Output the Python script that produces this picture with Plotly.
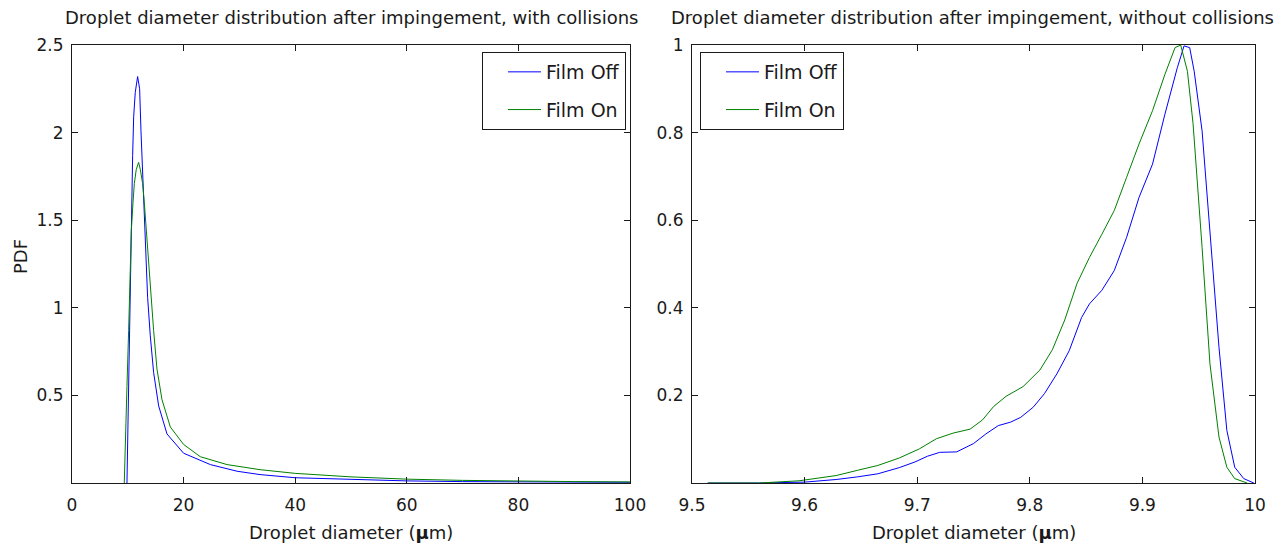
import plotly.graph_objects as go

# ---------------- data ----------------
# Left panel: with collisions (diameter in um, PDF)
off_col_x = [9.85, 10.15, 10.45, 10.63, 10.87, 11.05, 11.34, 11.76, 12.12, 12.36, 12.72,
             13.14, 13.55, 14.03, 14.63, 15.53, 17.02, 20.0, 24.8, 29.6, 33.7, 40, 50, 60, 70, 80, 90, 100]
off_col_y = [0.0, 0.63, 1.25, 1.60, 1.87, 2.09, 2.23, 2.32, 2.25, 2.01, 1.71,
             1.35, 1.06, 0.84, 0.63, 0.44, 0.28, 0.17, 0.105, 0.067, 0.048, 0.030, 0.019, 0.012, 0.008, 0.006, 0.005, 0.004]

on_col_x = [9.37, 9.55, 9.85, 10.15, 10.45, 10.63, 10.93, 11.17, 11.52, 11.94, 12.24, 12.66,
            12.96, 13.32, 13.74, 14.16, 14.63, 15.23, 16.13, 17.62, 20.0, 23.0, 27.8, 33.7,
            40, 50, 60, 70, 80, 90, 100]
on_col_y = [0.0, 0.27, 0.55, 0.87, 1.25, 1.44, 1.60, 1.71, 1.79, 1.83, 1.79, 1.71,
            1.60, 1.44, 1.25, 1.06, 0.87, 0.65, 0.475, 0.32, 0.22, 0.15, 0.105, 0.076,
            0.055, 0.035, 0.022, 0.015, 0.010, 0.008, 0.006]

# Right panel: without collisions
off_nocol_x = [9.514, 9.56, 9.60, 9.61, 9.628, 9.647, 9.665, 9.684, 9.698, 9.709, 9.72, 9.735,
               9.75, 9.761, 9.772, 9.783, 9.792, 9.803, 9.813, 9.824, 9.835, 9.846, 9.853,
               9.864, 9.875, 9.886, 9.897, 9.909, 9.92, 9.931, 9.937, 9.942, 9.946, 9.953,
               9.96, 9.968, 9.975, 9.982, 9.99, 9.999]
off_nocol_y = [0.0, 0.0, 0.002, 0.004, 0.008, 0.014, 0.021, 0.035, 0.048, 0.061, 0.070, 0.071,
               0.090, 0.112, 0.131, 0.139, 0.150, 0.173, 0.204, 0.249, 0.302, 0.378, 0.409,
               0.440, 0.485, 0.561, 0.652, 0.728, 0.842, 0.948, 0.998, 0.994, 0.940, 0.804,
               0.576, 0.310, 0.120, 0.036, 0.010, 0.0]

on_nocol_x = [9.514, 9.56, 9.595, 9.61, 9.628, 9.647, 9.665, 9.684, 9.702, 9.717, 9.732, 9.747,
              9.758, 9.768, 9.779, 9.794, 9.809, 9.82, 9.831, 9.842, 9.853, 9.864, 9.875,
              9.886, 9.897, 9.909, 9.92, 9.929, 9.934, 9.94, 9.945, 9.953, 9.96, 9.968,
              9.975, 9.982, 9.993]
on_nocol_y = [0.0, 0.0, 0.005, 0.010, 0.017, 0.029, 0.040, 0.057, 0.078, 0.101, 0.114, 0.123,
              0.144, 0.175, 0.198, 0.220, 0.258, 0.304, 0.372, 0.456, 0.515, 0.568, 0.622,
              0.698, 0.774, 0.850, 0.933, 0.994, 1.0, 0.940, 0.820, 0.538, 0.272, 0.105,
              0.036, 0.010, 0.0]

series_names = ["Film Off", "Film On"]
left_title = "Droplet diameter distribution after impingement, with collisions"
right_title = "Droplet diameter distribution after impingement, without collisions"
x_label = "Droplet diameter (<b>\u03bc</b>m)"
y_label = "PDF"
left_xticks = [0, 20, 40, 60, 80, 100]
left_yticks = [0.5, 1, 1.5, 2, 2.5]
left_ytext = ["0.5", "1", "1.5", "2", "2.5"]
right_xticks = [9.5, 9.6, 9.7, 9.8, 9.9, 10]
right_xtext = ["9.5", "9.6", "9.7", "9.8", "9.9", "10"]
right_yticks = [0.2, 0.4, 0.6, 0.8, 1]
right_ytext = ["0.2", "0.4", "0.6", "0.8", "1"]

# ---------------- figure ----------------
W, H = 1286, 546
BLUE = "#0000ff"
GREEN = "#008000"
FONT = "DejaVu Sans, Liberation Sans, sans-serif"
INK = "#1a1a1a"

fig = go.Figure()
fig.add_trace(go.Scatter(x=off_col_x, y=off_col_y, mode="lines", name=series_names[0],
                         line=dict(color=BLUE, width=1), xaxis="x", yaxis="y",
                         legend="legend", legendgroup="a"))
fig.add_trace(go.Scatter(x=on_col_x, y=on_col_y, mode="lines", name=series_names[1],
                         line=dict(color=GREEN, width=1), xaxis="x", yaxis="y",
                         legend="legend", legendgroup="b"))
fig.add_trace(go.Scatter(x=off_nocol_x, y=off_nocol_y, mode="lines", name=series_names[0],
                         line=dict(color=BLUE, width=1), xaxis="x2", yaxis="y2",
                         legend="legend2", legendgroup="c"))
fig.add_trace(go.Scatter(x=on_nocol_x, y=on_nocol_y, mode="lines", name=series_names[1],
                         line=dict(color=GREEN, width=1), xaxis="x2", yaxis="y2",
                         legend="legend2", legendgroup="d"))

def px(v):
    return v / W

def py(v):
    return (H - v) / H

axis_common = dict(showline=True, linecolor=INK, linewidth=1, mirror="ticks",
                   ticks="inside", ticklen=6, tickcolor=INK, showgrid=False,
                   zeroline=False, automargin=False,
                   tickfont=dict(family=FONT, size=17, color=INK))

L0, L1 = 72, 630
R0, R1 = 692, 1255
T, B = 45, 483
dom_y = [py(B), py(T)]
legend_common = dict(yanchor="top", bordercolor=INK, borderwidth=1, bgcolor="white",
                     font=dict(family=FONT, size=19, color=INK), tracegroupgap=10,
                     indentation=20, itemwidth=33)
fig.update_layout(
    width=W, height=H,
    margin=dict(l=0, r=0, t=0, b=0),
    paper_bgcolor="white", plot_bgcolor="white",
    font=dict(family=FONT, size=16, color=INK),
    showlegend=True,
    xaxis=dict(domain=[px(L0), px(L1)], range=[0, 100], tickvals=left_xticks,
               anchor="y", ticklabelstandoff=7, **axis_common),
    yaxis=dict(domain=dom_y, range=[0, 2.5], tickvals=left_yticks,
               ticktext=left_ytext, anchor="x", ticklabelstandoff=4, **axis_common),
    xaxis2=dict(domain=[px(R0), px(R1)], range=[9.5, 10], tickvals=right_xticks,
                ticktext=right_xtext, anchor="y2", ticklabelstandoff=7, **axis_common),
    yaxis2=dict(domain=dom_y, range=[0, 1], tickvals=right_yticks, ticktext=right_ytext,
                anchor="x2", ticklabelstandoff=4, **axis_common),
    legend=dict(x=px(626), y=py(52), xanchor="right", **legend_common),
    legend2=dict(x=px(700), y=py(52), xanchor="left", **legend_common),
)

annotations = [
    dict(text=left_title, x=px((L0 + L1) / 2), y=py(18), xref="paper", yref="paper",
         xanchor="center", yanchor="middle", showarrow=False, font=dict(size=18)),
    dict(text=right_title, x=px(972), y=py(18), xref="paper", yref="paper",
         xanchor="center", yanchor="middle", showarrow=False, font=dict(size=18)),
    dict(text=x_label, x=px((L0 + L1) / 2), y=py(532), xref="paper", yref="paper",
         xanchor="center", yanchor="middle", showarrow=False, font=dict(size=18)),
    dict(text=x_label, x=px((R0 + R1) / 2), y=py(532), xref="paper", yref="paper",
         xanchor="center", yanchor="middle", showarrow=False, font=dict(size=18)),
    dict(text=y_label, x=px(20), y=py(257), xref="paper", yref="paper",
         xanchor="center", yanchor="middle", showarrow=False, textangle=-90,
         font=dict(size=18)),
]
fig.update_layout(annotations=annotations)

fig.write_html("out.html")
